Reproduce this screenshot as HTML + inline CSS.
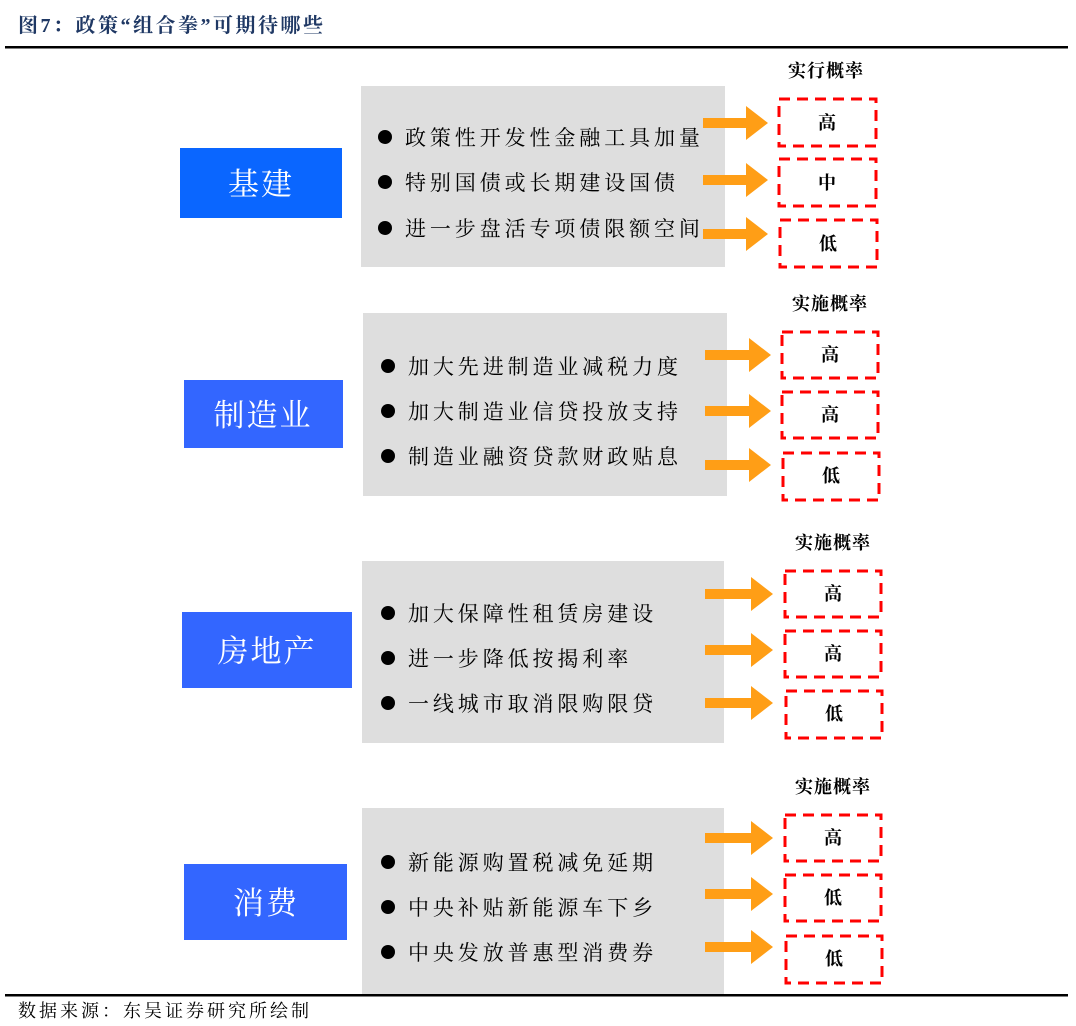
<!DOCTYPE html>
<html><head><meta charset="utf-8"><style>
html,body{margin:0;padding:0;background:#fff;width:1076px;height:1026px;overflow:hidden}
svg{display:block}
.t{font-family:"Liberation Serif","Noto Serif CJK SC",serif}
.it{font-family:"Liberation Serif","Noto Serif CJK SC",serif;font-size:21px;letter-spacing:3.9px;fill:#000}
.bl{font-family:"Liberation Serif","Noto Serif CJK SC",serif;font-size:31px;fill:#fff;text-anchor:middle;letter-spacing:2px}
.hd{font-family:"Liberation Serif","Noto Serif CJK SC",serif;font-size:18px;font-weight:bold;fill:#000;text-anchor:middle;letter-spacing:1px}
.pb{font-family:"Liberation Serif","Noto Serif CJK SC",serif;font-size:18px;font-weight:bold;fill:#000;text-anchor:middle}
.db{fill:none;stroke:#ff0000;stroke-width:3;stroke-dasharray:11,7}
.ar{fill:#ff9e16}
</style></head><body>
<svg width="1076" height="1026" xmlns="http://www.w3.org/2000/svg">
<text x="18" y="32" class="t" font-size="20" font-weight="bold" fill="#1f3864" letter-spacing="2.5">图7：政策“组合拳”可期待哪些</text>
<rect x="5" y="46" width="1063" height="2.5" fill="#000"/>
<rect x="5" y="994" width="1063" height="2.5" fill="#000"/>
<text x="18" y="1017" class="t" font-size="18" fill="#000" letter-spacing="3">数据来源：东吴证券研究所绘制</text>

<!-- section 1 -->
<rect x="180" y="148" width="162" height="70" fill="#0a66ff"/>
<text x="261" y="195" class="bl">基建</text>
<rect x="361" y="86" width="364" height="181" fill="#dedede"/>
<circle cx="385" cy="137" r="7"/><text x="405" y="145" class="it">政策性开发性金融工具加量</text>
<circle cx="385" cy="182" r="7"/><text x="405" y="190" class="it">特别国债或长期建设国债</text>
<circle cx="385" cy="228" r="7"/><text x="405" y="236" class="it">进一步盘活专项债限额空间</text>
<text x="826" y="77" class="hd">实行概率</text>
<path class="ar" d="M703 118h43v-12l22 17-22 17v-12h-43z"/>
<path class="ar" d="M703 175h43v-12l22 17-22 17v-12h-43z"/>
<path class="ar" d="M703 229h43v-12l22 17-22 17v-12h-43z"/>
<rect x="779" y="99" width="97" height="47" class="db"/><text x="827" y="129" class="pb">高</text>
<rect x="779" y="159" width="97" height="47" class="db"/><text x="827" y="189" class="pb">中</text>
<rect x="780" y="220" width="97" height="47" class="db"/><text x="828" y="250" class="pb">低</text>

<!-- section 2 -->
<rect x="184" y="380" width="159" height="68" fill="#3366ff"/>
<text x="263" y="426" class="bl">制造业</text>
<rect x="363" y="313" width="364" height="183" fill="#dedede"/>
<circle cx="388" cy="366" r="7"/><text x="408" y="374" class="it">加大先进制造业减税力度</text>
<circle cx="388" cy="411" r="7"/><text x="408" y="419" class="it">加大制造业信贷投放支持</text>
<circle cx="388" cy="456" r="7"/><text x="408" y="464" class="it">制造业融资贷款财政贴息</text>
<text x="830" y="310" class="hd">实施概率</text>
<path class="ar" d="M705 350h44v-12l22 17-22 17v-12h-44z"/>
<path class="ar" d="M705 406h44v-12l22 17-22 17v-12h-44z"/>
<path class="ar" d="M705 460h44v-12l22 17-22 17v-12h-44z"/>
<rect x="782" y="332" width="96" height="46" class="db"/><text x="830" y="361" class="pb">高</text>
<rect x="782" y="392" width="96" height="46" class="db"/><text x="830" y="421" class="pb">高</text>
<rect x="783" y="453" width="96" height="47" class="db"/><text x="831" y="482" class="pb">低</text>

<!-- section 3 -->
<rect x="182" y="612" width="170" height="76" fill="#3366ff"/>
<text x="267" y="662" class="bl">房地产</text>
<rect x="362" y="561" width="362" height="182" fill="#dedede"/>
<circle cx="388" cy="613" r="7"/><text x="408" y="621" class="it">加大保障性租赁房建设</text>
<circle cx="388" cy="658" r="7"/><text x="408" y="666" class="it">进一步降低按揭利率</text>
<circle cx="388" cy="703" r="7"/><text x="408" y="711" class="it">一线城市取消限购限贷</text>
<text x="833" y="549" class="hd">实施概率</text>
<path class="ar" d="M705 589h46v-12l22 17-22 17v-12h-46z"/>
<path class="ar" d="M705 645h46v-12l22 17-22 17v-12h-46z"/>
<path class="ar" d="M705 698h46v-12l22 17-22 17v-12h-46z"/>
<rect x="785" y="571" width="96" height="46" class="db"/><text x="833" y="600" class="pb">高</text>
<rect x="785" y="631" width="96" height="46" class="db"/><text x="833" y="660" class="pb">高</text>
<rect x="786" y="691" width="96" height="47" class="db"/><text x="834" y="720" class="pb">低</text>

<!-- section 4 -->
<rect x="184" y="864" width="163" height="76" fill="#3366ff"/>
<text x="266" y="914" class="bl">消费</text>
<rect x="362" y="808" width="362" height="186" fill="#dedede"/>
<circle cx="388" cy="862" r="7"/><text x="408" y="870" class="it">新能源购置税减免延期</text>
<circle cx="388" cy="907" r="7"/><text x="408" y="915" class="it">中央补贴新能源车下乡</text>
<circle cx="388" cy="952" r="7"/><text x="408" y="960" class="it">中央发放普惠型消费券</text>
<text x="833" y="793" class="hd">实施概率</text>
<path class="ar" d="M705 833h46v-12l22 17-22 17v-12h-46z"/>
<path class="ar" d="M705 889h46v-12l22 17-22 17v-12h-46z"/>
<path class="ar" d="M705 942h46v-12l22 17-22 17v-12h-46z"/>
<rect x="785" y="815" width="96" height="46" class="db"/><text x="833" y="844" class="pb">高</text>
<rect x="785" y="875" width="96" height="46" class="db"/><text x="833" y="904" class="pb">低</text>
<rect x="786" y="936" width="96" height="47" class="db"/><text x="834" y="965" class="pb">低</text>
</svg>
</body></html>
